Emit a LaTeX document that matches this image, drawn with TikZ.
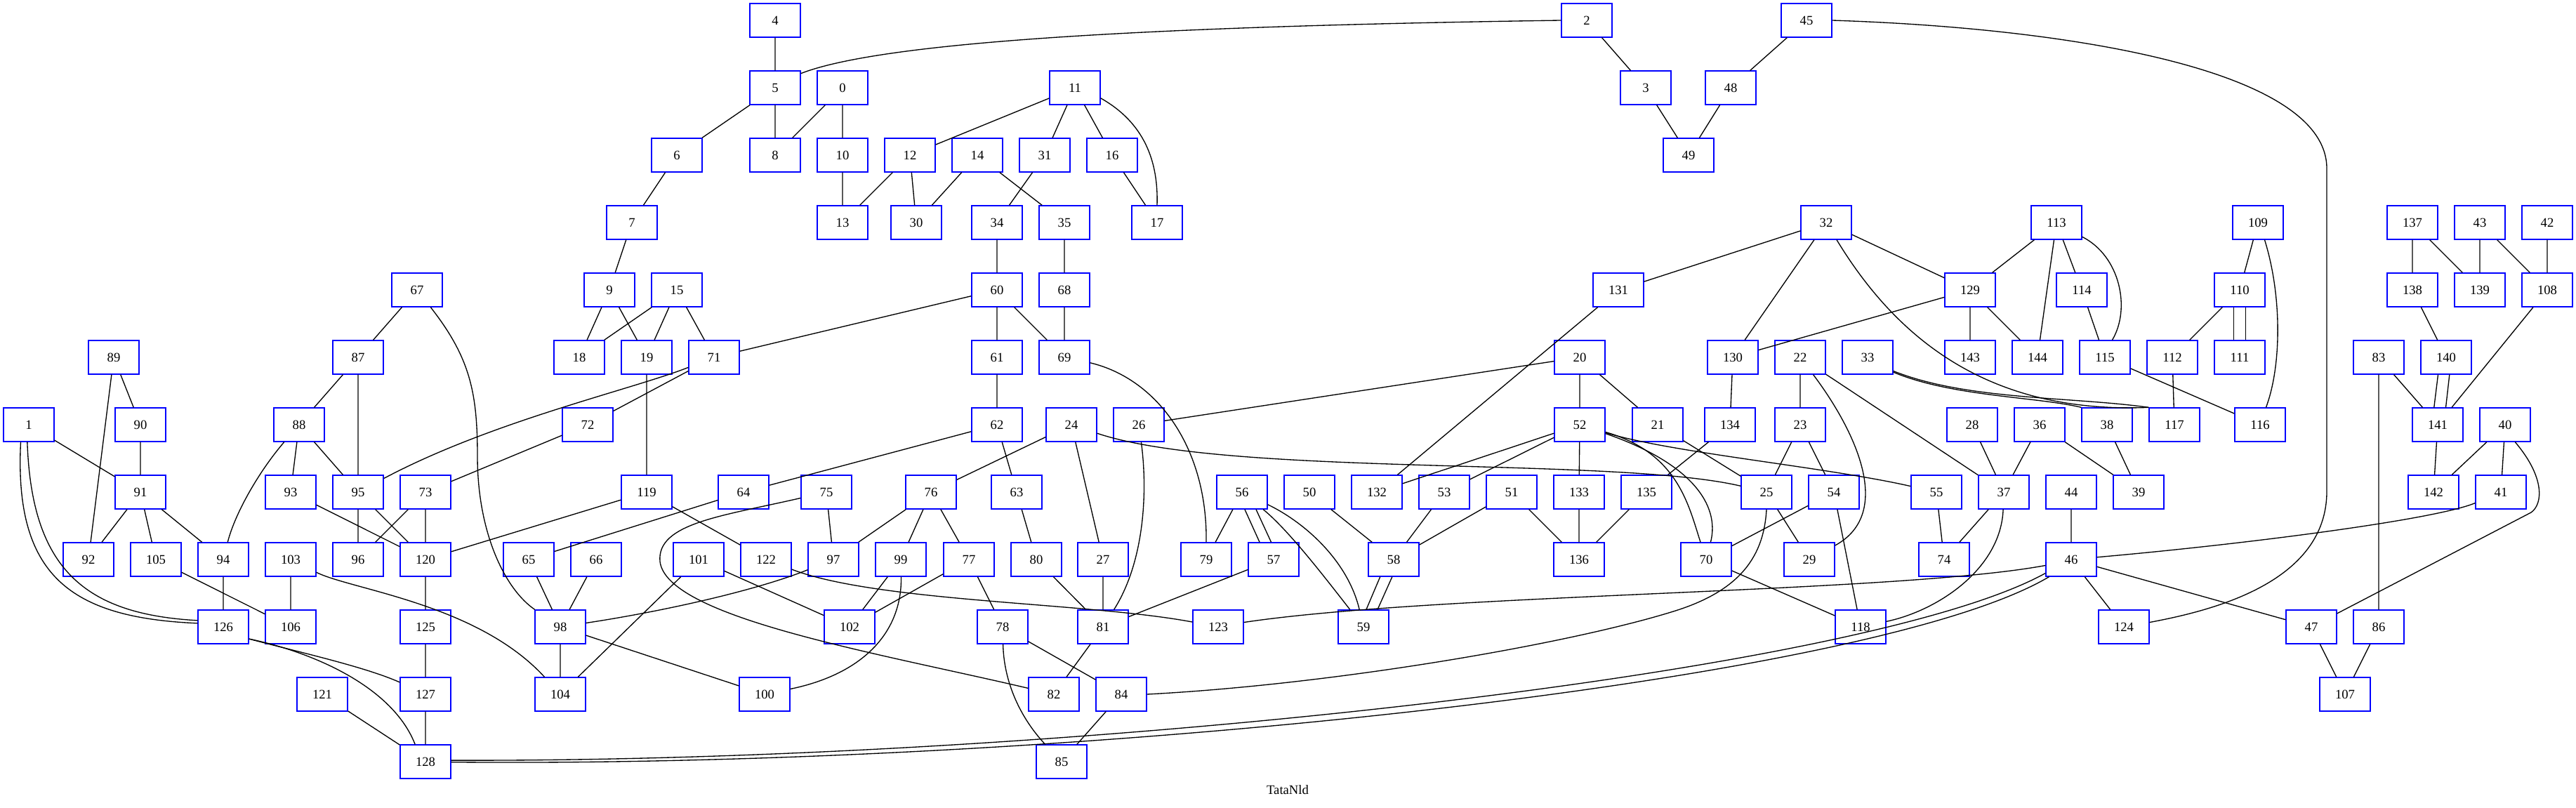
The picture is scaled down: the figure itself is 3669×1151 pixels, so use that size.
\documentclass[tikz,border=0pt]{standalone}
\usepackage{fontspec}
\setmainfont{Liberation Serif}
\begin{document}
\begin{tikzpicture}[x=0.75pt,y=-0.75pt,
  nd/.style={draw=blue, line width=1pt, rectangle, minimum width=54pt, minimum height=36pt, inner sep=0pt, font=\fontsize{14}{16}\selectfont},
  ed/.style={draw=black, line width=1pt}]
\useasboundingbox (0,0) rectangle (3669,1151);
% row 0
\node[nd] (n4) at (1104,29) {4};
\node[nd] (n2) at (2260,29) {2};
\node[nd] (n45) at (2573,29) {45};
% row 1
\node[nd] (n5) at (1104,125) {5};
\node[nd] (n0) at (1200,125) {0};
\node[nd] (n11) at (1531,125) {11};
\node[nd] (n3) at (2344,125) {3};
\node[nd] (n48) at (2465,125) {48};
% row 2
\node[nd] (n6) at (964,221) {6};
\node[nd] (n8) at (1104,221) {8};
\node[nd] (n10) at (1200,221) {10};
\node[nd] (n12) at (1296,221) {12};
\node[nd] (n14) at (1392,221) {14};
\node[nd] (n31) at (1488,221) {31};
\node[nd] (n16) at (1584,221) {16};
\node[nd] (n49) at (2405,221) {49};
% row 3
\node[nd] (n7) at (900,317) {7};
\node[nd] (n13) at (1200,317) {13};
\node[nd] (n30) at (1305,317) {30};
\node[nd] (n34) at (1420,317) {34};
\node[nd] (n35) at (1516,317) {35};
\node[nd] (n17) at (1648,317) {17};
\node[nd] (n32) at (2601,317) {32};
\node[nd] (n113) at (2929,317) {113};
\node[nd] (n109) at (3216,317) {109};
\node[nd] (n137) at (3436,317) {137};
\node[nd] (n43) at (3532,317) {43};
\node[nd] (n42) at (3628,317) {42};
% row 4
\node[nd] (n67) at (594,413) {67};
\node[nd] (n9) at (868,413) {9};
\node[nd] (n15) at (964,413) {15};
\node[nd] (n60) at (1420,413) {60};
\node[nd] (n68) at (1516,413) {68};
\node[nd] (n131) at (2305,413) {131};
\node[nd] (n129) at (2806,413) {129};
\node[nd] (n114) at (2965,413) {114};
\node[nd] (n110) at (3190,413) {110};
\node[nd] (n138) at (3436,413) {138};
\node[nd] (n139) at (3532,413) {139};
\node[nd] (n108) at (3628,413) {108};
% row 5
\node[nd] (n89) at (162,509) {89};
\node[nd] (n87) at (510,509) {87};
\node[nd] (n18) at (825,509) {18};
\node[nd] (n19) at (921,509) {19};
\node[nd] (n71) at (1017,509) {71};
\node[nd] (n61) at (1420,509) {61};
\node[nd] (n69) at (1516,509) {69};
\node[nd] (n20) at (2250,509) {20};
\node[nd] (n130) at (2468,509) {130};
\node[nd] (n22) at (2564,509) {22};
\node[nd] (n33) at (2660,509) {33};
\node[nd] (n143) at (2806,509) {143};
\node[nd] (n144) at (2902,509) {144};
\node[nd] (n115) at (2998,509) {115};
\node[nd] (n112) at (3094,509) {112};
\node[nd] (n111) at (3190,509) {111};
\node[nd] (n83) at (3388,509) {83};
\node[nd] (n140) at (3484,509) {140};
% row 6
\node[nd] (n1) at (41,605) {1};
\node[nd] (n90) at (200,605) {90};
\node[nd] (n88) at (426,605) {88};
\node[nd] (n72) at (837,605) {72};
\node[nd] (n62) at (1420,605) {62};
\node[nd] (n24) at (1526,605) {24};
\node[nd] (n26) at (1622,605) {26};
\node[nd] (n52) at (2250,605) {52};
\node[nd] (n21) at (2361,605) {21};
\node[nd] (n134) at (2464,605) {134};
\node[nd] (n23) at (2564,605) {23};
\node[nd] (n28) at (2809,605) {28};
\node[nd] (n36) at (2905,605) {36};
\node[nd] (n38) at (3001,605) {38};
\node[nd] (n117) at (3097,605) {117};
\node[nd] (n116) at (3219,605) {116};
\node[nd] (n141) at (3472,605) {141};
\node[nd] (n40) at (3568,605) {40};
% row 7
\node[nd] (n91) at (200,701) {91};
\node[nd] (n93) at (414,701) {93};
\node[nd] (n95) at (510,701) {95};
\node[nd] (n73) at (606,701) {73};
\node[nd] (n119) at (921,701) {119};
\node[nd] (n64) at (1059,701) {64};
\node[nd] (n75) at (1177,701) {75};
\node[nd] (n76) at (1326,701) {76};
\node[nd] (n63) at (1448,701) {63};
\node[nd] (n56) at (1769,701) {56};
\node[nd] (n50) at (1865,701) {50};
\node[nd] (n132) at (1961,701) {132};
\node[nd] (n53) at (2057,701) {53};
\node[nd] (n51) at (2153,701) {51};
\node[nd] (n133) at (2249,701) {133};
\node[nd] (n135) at (2345,701) {135};
\node[nd] (n25) at (2516,701) {25};
\node[nd] (n54) at (2612,701) {54};
\node[nd] (n55) at (2758,701) {55};
\node[nd] (n37) at (2854,701) {37};
\node[nd] (n44) at (2950,701) {44};
\node[nd] (n39) at (3046,701) {39};
\node[nd] (n142) at (3466,701) {142};
\node[nd] (n41) at (3562,701) {41};
% row 8
\node[nd] (n92) at (126,797) {92};
\node[nd] (n105) at (222,797) {105};
\node[nd] (n94) at (318,797) {94};
\node[nd] (n103) at (414,797) {103};
\node[nd] (n96) at (510,797) {96};
\node[nd] (n120) at (606,797) {120};
\node[nd] (n65) at (753,797) {65};
\node[nd] (n66) at (849,797) {66};
\node[nd] (n101) at (995,797) {101};
\node[nd] (n122) at (1091,797) {122};
\node[nd] (n97) at (1187,797) {97};
\node[nd] (n99) at (1283,797) {99};
\node[nd] (n77) at (1380,797) {77};
\node[nd] (n80) at (1476,797) {80};
\node[nd] (n27) at (1571,797) {27};
\node[nd] (n79) at (1718,797) {79};
\node[nd] (n57) at (1814,797) {57};
\node[nd] (n58) at (1985,797) {58};
\node[nd] (n136) at (2249,797) {136};
\node[nd] (n70) at (2430,797) {70};
\node[nd] (n29) at (2577,797) {29};
\node[nd] (n74) at (2769,797) {74};
\node[nd] (n46) at (2950,797) {46};
% row 9
\node[nd] (n126) at (318,893) {126};
\node[nd] (n106) at (414,893) {106};
\node[nd] (n125) at (606,893) {125};
\node[nd] (n98) at (798,893) {98};
\node[nd] (n102) at (1210,893) {102};
\node[nd] (n78) at (1428,893) {78};
\node[nd] (n81) at (1571,893) {81};
\node[nd] (n123) at (1735,893) {123};
\node[nd] (n59) at (1942,893) {59};
\node[nd] (n118) at (2650,893) {118};
\node[nd] (n124) at (3025,893) {124};
\node[nd] (n47) at (3292,893) {47};
\node[nd] (n86) at (3388,893) {86};
% row 10
\node[nd] (n121) at (459,989) {121};
\node[nd] (n127) at (606,989) {127};
\node[nd] (n104) at (798,989) {104};
\node[nd] (n100) at (1089,989) {100};
\node[nd] (n82) at (1501,989) {82};
\node[nd] (n84) at (1597,989) {84};
\node[nd] (n107) at (3340,989) {107};
% row 11
\node[nd] (n128) at (606,1085) {128};
\node[nd] (n85) at (1512,1085) {85};
% title
\node[font=\fontsize{14}{16}\selectfont] (title) at (1834,1125) {TataNld};

% straight edges
\draw[ed] (n4) -- (n5) (n5) -- (n6) (n5) -- (n8) (n0) -- (n8) (n0) -- (n10) (n10) -- (n13)
  (n2) -- (n3) (n3) -- (n49) (n45) -- (n48) (n48) -- (n49) (n6) -- (n7) (n7) -- (n9)
  (n9) -- (n18) (n9) -- (n19) (n15) -- (n18) (n15) -- (n19) (n15) -- (n71) (n60) -- (n71)
  (n71) -- (n72) (n19) -- (n119) (n11) -- (n12) (n11) -- (n31) (n11) -- (n16) (n12) -- (n13)
  (n12) -- (n30) (n14) -- (n30) (n14) -- (n35) (n31) -- (n34) (n16) -- (n17) (n34) -- (n60)
  (n35) -- (n68) (n60) -- (n61) (n60) -- (n69) (n68) -- (n69) (n61) -- (n62) (n67) -- (n87)
  (n89) -- (n90) (n89) -- (n92) (n87) -- (n88) (n87) -- (n95) (n131) -- (n132) (n32) -- (n131)
  (n32) -- (n130) (n32) -- (n129) (n129) -- (n130) (n129) -- (n143) (n129) -- (n144)
  (n113) -- (n129) (n113) -- (n144) (n113) -- (n114) (n114) -- (n115) (n109) -- (n110)
  (n110) -- (n112) (n112) -- (n117) (n115) -- (n116) (n137) -- (n138) (n137) -- (n139)
  (n43) -- (n139) (n43) -- (n108) (n42) -- (n108) (n138) -- (n140) (n108) -- (n141)
  (n83) -- (n141) (n83) -- (n86) (n20) -- (n26) (n20) -- (n52) (n20) -- (n21) (n130) -- (n134)
  (n22) -- (n23) (n22) -- (n37) (n36) -- (n37) (n36) -- (n39) (n28) -- (n37) (n38) -- (n39)
  (n23) -- (n25) (n23) -- (n54) (n21) -- (n25) (n52) -- (n132) (n52) -- (n53) (n52) -- (n133)
  (n134) -- (n135) (n50) -- (n58) (n53) -- (n58) (n51) -- (n58) (n51) -- (n136) (n133) -- (n136)
  (n135) -- (n136) (n25) -- (n29) (n54) -- (n70) (n54) -- (n118) (n70) -- (n118) (n55) -- (n74)
  (n37) -- (n74) (n44) -- (n46) (n46) -- (n124) (n46) -- (n47) (n40) -- (n142) (n40) -- (n41)
  (n141) -- (n142) (n47) -- (n107) (n86) -- (n107) (n1) -- (n91) (n90) -- (n91) (n91) -- (n92)
  (n91) -- (n105) (n91) -- (n94) (n88) -- (n93) (n88) -- (n95) (n93) -- (n120) (n95) -- (n96)
  (n95) -- (n120) (n73) -- (n96) (n73) -- (n120) (n72) -- (n73) (n105) -- (n106) (n94) -- (n126)
  (n103) -- (n106) (n120) -- (n125) (n125) -- (n127) (n127) -- (n128) (n121) -- (n128)
  (n119) -- (n120) (n64) -- (n65) (n62) -- (n64) (n119) -- (n122) (n75) -- (n97) (n65) -- (n98)
  (n66) -- (n98) (n98) -- (n104) (n98) -- (n100) (n101) -- (n104) (n101) -- (n102) (n99) -- (n102)
  (n77) -- (n102) (n76) -- (n97) (n76) -- (n99) (n76) -- (n77) (n24) -- (n76) (n24) -- (n27)
  (n62) -- (n63) (n63) -- (n80) (n80) -- (n81) (n27) -- (n81) (n57) -- (n81) (n77) -- (n78)
  (n78) -- (n84) (n81) -- (n82) (n84) -- (n85) (n56) -- (n79);

% curved edges
\draw[ed] (n2.west) .. controls (1600,38) and (1250,62) .. (n5.29);
\draw[ed] (n45.east) .. controls (2950,40) and (3314,100) .. (3314,240) -- (3314,700) .. controls (3314,830) and (3150,870) .. (n124.10);
\draw[ed] (n11.-22) .. controls (1630,175) and (1650,230) .. (n17.north);
\draw[ed] (n69.-12) .. controls (1650,540) and (1720,640) .. (n79.north);
\draw[ed] (n113.-29) .. controls (3020,365) and (3035,440) .. (n115.67);
\draw[ed] (n109.-69) .. controls (3250,420) and (3250,520) .. (n116.71);
\draw[ed] (n110.-109) -- (n111.109);
\draw[ed] (n110.-71) -- (n111.71);
\draw[ed] (n140.-115) -- (n141.102);
\draw[ed] (n140.-79) -- (n141.65);
\draw[ed] (n32) .. controls (2700,480) and (2830,590) .. (n117.north west);
\draw[ed] (n33.-28) .. controls (2800,570) and (2950,565) .. (n117.north west);
\draw[ed] (n33.-30) .. controls (2780,565) and (2900,565) .. (n38.north west);
\draw[ed] (n22) .. controls (2640,610) and (2700,730) .. (n29);
\draw[ed] (n52) .. controls (2390,645) and (2405,720) .. (n70);
\draw[ed] (n52) .. controls (2410,660) and (2450,720) .. (n70);
\draw[ed] (n25.south) .. controls (2512,800) and (2470,845) .. (2380,872) .. controls (2230,918) and (1900,975) .. (n84.east);
\draw[ed] (n46.-167) .. controls (2700,845) and (2050,845) .. (n123.10);
\draw[ed] (n46.-152) .. controls (2650,962) and (1500,1086) .. (n128.3);
\draw[ed] (n46.-142) .. controls (2660,975) and (1500,1094) .. (n128.-1);
\draw[ed] (n41) .. controls (3470,740) and (3200,775) .. (n46);
\draw[ed] (n40.-60) .. controls (3625,680) and (3622,718) .. (3605,730) -- (n47);
\draw[ed] (n99) .. controls (1285,900) and (1230,960) .. (n100);
\draw[ed] (n75) .. controls (1030,735) and (935,745) .. (940,800) .. controls (950,880) and (1250,930) .. (n82);
\draw[ed] (n67) .. controls (670,510) and (680,560) .. (680,650) .. controls (680,760) and (720,840) .. (n98);
\draw[ed] (n71) .. controls (900,555) and (700,600) .. (n95);
\draw[ed] (n1.-115) .. controls (20,820) and (100,880) .. (n126.172);
\draw[ed] (n1.-95) .. controls (45,810) and (120,875) .. (n126.166);
\draw[ed] (n126.-25) .. controls (430,930) and (520,950) .. (n127.155);
\draw[ed] (n126.-25) .. controls (450,930) and (560,980) .. (n128.121);
\draw[ed] (n88) .. controls (370,670) and (335,730) .. (n94);
\draw[ed] (n103) .. controls (500,840) and (680,860) .. (n104);
\draw[ed] (n122) .. controls (1250,858) and (1550,858) .. (n123);
\draw[ed] (n97) .. controls (1080,840) and (950,870) .. (n98);
\draw[ed] (n26) .. controls (1635,700) and (1630,800) .. (n81);
\draw[ed] (n24) .. controls (1750,680) and (2300,650) .. (n25);
\draw[ed] (n52) .. controls (2380,645) and (2600,665) .. (n55);
\draw[ed] (n37) .. controls (2850,810) and (2760,870) .. (n118);
\draw[ed] (n56) .. controls (1860,745) and (1920,800) .. (n59);
\draw[ed] (n56) .. controls (1835,755) and (1885,820) .. (n59);
\draw[ed] (n56.-81) -- (n57.129);
\draw[ed] (n56.-51) -- (n57.98);
\draw[ed] (n58.-128) -- (n59.81);
\draw[ed] (n58.-95) -- (n59.51);
\draw[ed] (n78) .. controls (1430,980) and (1460,1030) .. (n85);
\end{tikzpicture}
\end{document}
